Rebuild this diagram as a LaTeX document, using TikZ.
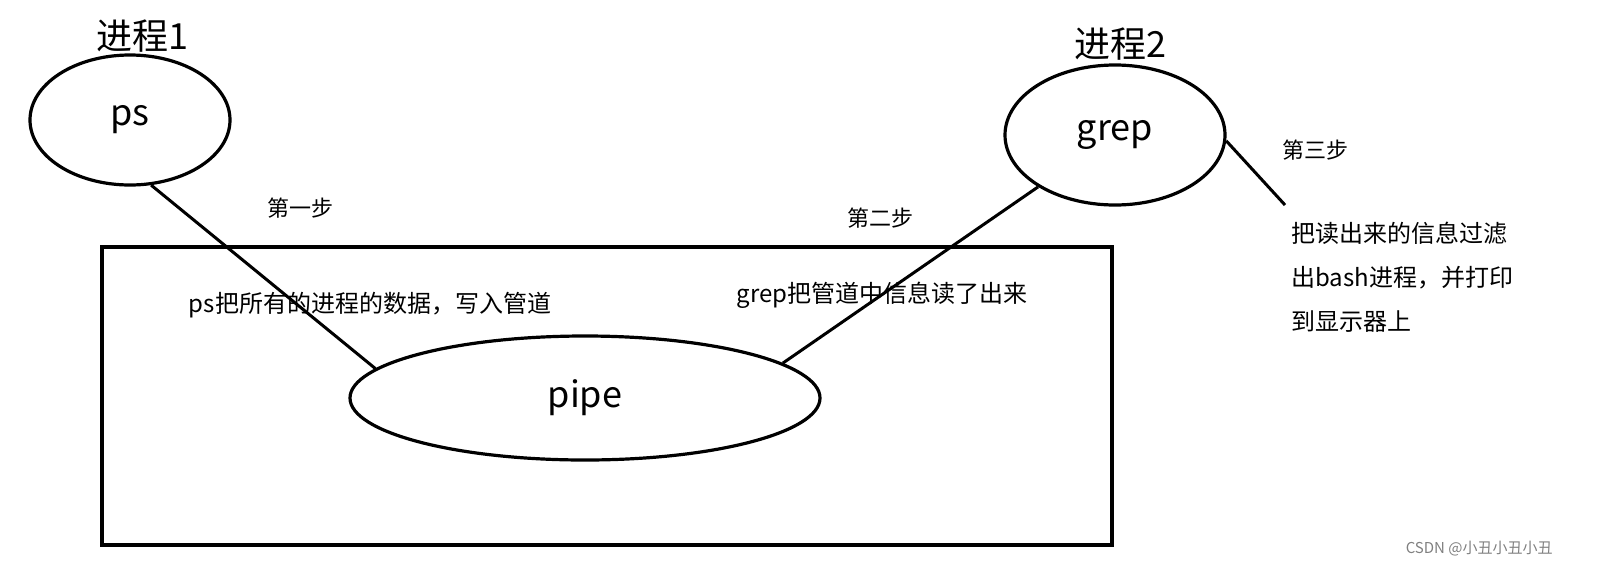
\documentclass[tikz,border=0pt]{standalone}
\usepackage{fontspec}
\setmainfont{Noto Sans CJK SC}
\usetikzlibrary{shapes.geometric}
\begin{document}
\begin{tikzpicture}[x=0.5pt,y=-0.5pt,
  ell/.style={draw,ellipse,line width=1.6pt,inner sep=0pt},
  lbl/.style={font=\fontsize{11}{13}\selectfont,inner sep=0pt},
  txt/.style={font=\fontsize{12}{15}\selectfont,inner sep=0pt},
  big/.style={font=\fontsize{18}{20}\selectfont,inner sep=0pt},
  con/.style={line width=1.5pt}]
\node[big] (t1) at (142,36) {进程1};
\node[big] (t2) at (1120,44) {进程2};
\node[ell,minimum width=100pt,minimum height=65pt] (ps) at (130,120) {};
\node[big] at (ps.center) {ps};
\node[ell,minimum width=110pt,minimum height=70pt] (grep) at (1115,135) {};
\node[big] at (grep.center) {grep};
\node[draw,line width=1.6pt,minimum width=505pt,minimum height=149pt,inner sep=0pt] (box) at (607,396) {};
\node[ell,minimum width=235pt,minimum height=62pt] (pipe) at (585,398) {};
\node[big] at (pipe.center) {pipe};
\draw[con] (ps.-72) -- (pipe.172);
\draw[con] (grep.214) -- (pipe.10);
\coordinate (e3) at (1285,205);
\draw[con] (grep.-3) -- (e3);
\node[lbl] (s1) at (300,208) {第一步};
\node[lbl] (s2) at (880,218) {第二步};
\node[lbl] (s3) at (1315,150) {第三步};
\node[txt] (a1) at (370,305) {ps把所有的进程的数据，写入管道};
\node[txt] (a2) at (882,295) {grep把管道中信息读了出来};
\node[txt,anchor=north west,align=left,font=\fontsize{12}{22}\selectfont] (a3) at (1291,222) {把读出来的信息过滤\\出bash进程，并打印\\到显示器上};
\node[font=\fontsize{7.5}{9}\selectfont,text=gray,anchor=east,inner sep=0pt] (wm) at (1553,549) {CSDN @小丑小丑小丑};
\pgfresetboundingbox
\useasboundingbox (0,0) rectangle (1600,579);
\end{tikzpicture}
\end{document}
